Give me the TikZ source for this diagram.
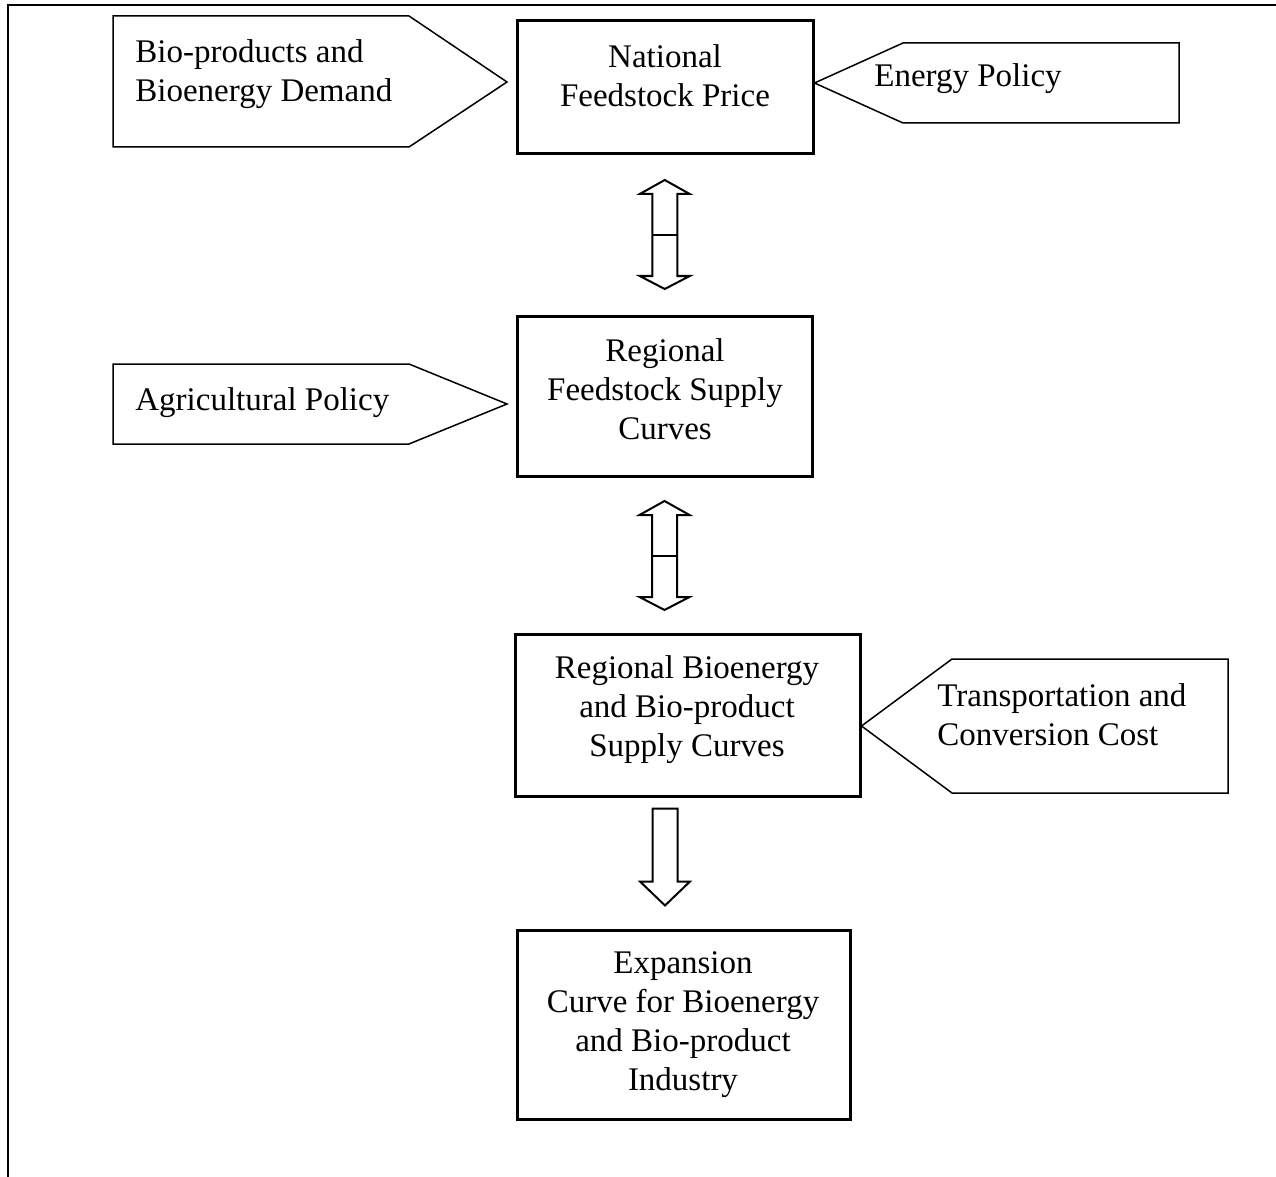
\documentclass[tikz,border=0pt]{standalone}
\usepackage{fontspec}
\setmainfont{Liberation Serif}
\usetikzlibrary{positioning, calc}
\tikzset{
  mainbox/.style={
    draw, rectangle, line width=1.5pt, inner sep=0pt
  },
  boxtext/.style={
    align=center, inner sep=0pt, font=\fontsize{16.5}{19.5}\selectfont
  },
  tagtext/.style={
    align=left, inner sep=0pt, font=\fontsize{16.5}{19.5}\selectfont
  },
  inputtag/.style={
    draw, line width=0.75pt, line join=miter
  },
  blockarrow/.style={
    draw, fill=white, line width=1pt, line join=miter
  },
  twoway/.pic={
    \draw[blockarrow] (0,-55) -- (25,-41) -- (12.5,-41) -- (12.5,41) -- (25,41) -- (0,54)
      -- (-25,41) -- (-12.5,41) -- (-12.5,-41) -- (-25,-41) -- cycle;
    \draw[line width=1pt] (-12.5,0) -- (12.5,0);
  },
  oneway/.pic={
    \draw[blockarrow] (-12.5,0) -- (12.5,0) -- (12.5,73) -- (25,73) -- (0,97)
      -- (-25,73) -- (-12.5,73) -- cycle;
  }
}

\begin{document}
\begin{tikzpicture}[x=0.5pt, y=-0.5pt]
  \useasboundingbox (0,0) rectangle (1276,1177);
  % outer frame
  \draw[line width=1.2pt] (1276,5) -- (8,5) -- (8,1177);

  % main chain
  \node[mainbox, minimum width=148pt, minimum height=66.5pt] (nat) at (665,87.5) {};
  \node[boxtext] (nattext) at (665,76) {National\\Feedstock Price};

  \node[mainbox, minimum width=147.5pt, minimum height=80pt] (regf) at (664.5,396) {};
  \node[boxtext] (regftext) at (665,389) {Regional\\Feedstock Supply\\Curves};

  \node[mainbox, minimum width=172.5pt, minimum height=81pt] (bioreg) at (687.5,715) {};
  \node[boxtext] (biotext) at (687,710) {Regional Bioenergy\\and Bio-product\\Supply Curves};

  \node[mainbox, minimum width=166.5pt, minimum height=94.5pt] (exp) at (683.5,1024.5) {};
  \node[boxtext] (exptext) at (683,1025) {Expansion\\Curve for Bioenergy\\and Bio-product\\Industry};

  % block arrows
  \path ($(nat.south)!0.5!(regf.north)$) pic {twoway};
  \path (regf.south |- 0,556) pic {twoway};
  \path ($(regf.south |- bioreg.south)+(0.5,11)$) pic {oneway};

  % side inputs
  \draw[inputtag] (113,16) -- (409,16) -- (507,82) -- (409,147) -- (113,147) -- cycle;
  \node[tagtext, anchor=west] (demand) at (135,74) {Bio-products and\\Bioenergy Demand};

  \draw[inputtag] (nat.east |- 0,83) -- (903,43) -- (1179,43) -- (1179,123) -- (903,123) -- cycle;
  \node[tagtext, anchor=base west] (energy) at (874,87) {Energy Policy};

  \draw[inputtag] (113,364) -- (409,364) -- (507,404) -- (409,444) -- (113,444) -- cycle;
  \node[tagtext, anchor=base west] (agri) at (135,410) {Agricultural Policy};

  \draw[inputtag] (bioreg.east |- 0,726) -- (952,659) -- (1228,659) -- (1228,793) -- (952,793) -- cycle;
  \node[tagtext, anchor=west] (transport) at (937,715) {Transportation and\\Conversion Cost};
\end{tikzpicture}
\end{document}
